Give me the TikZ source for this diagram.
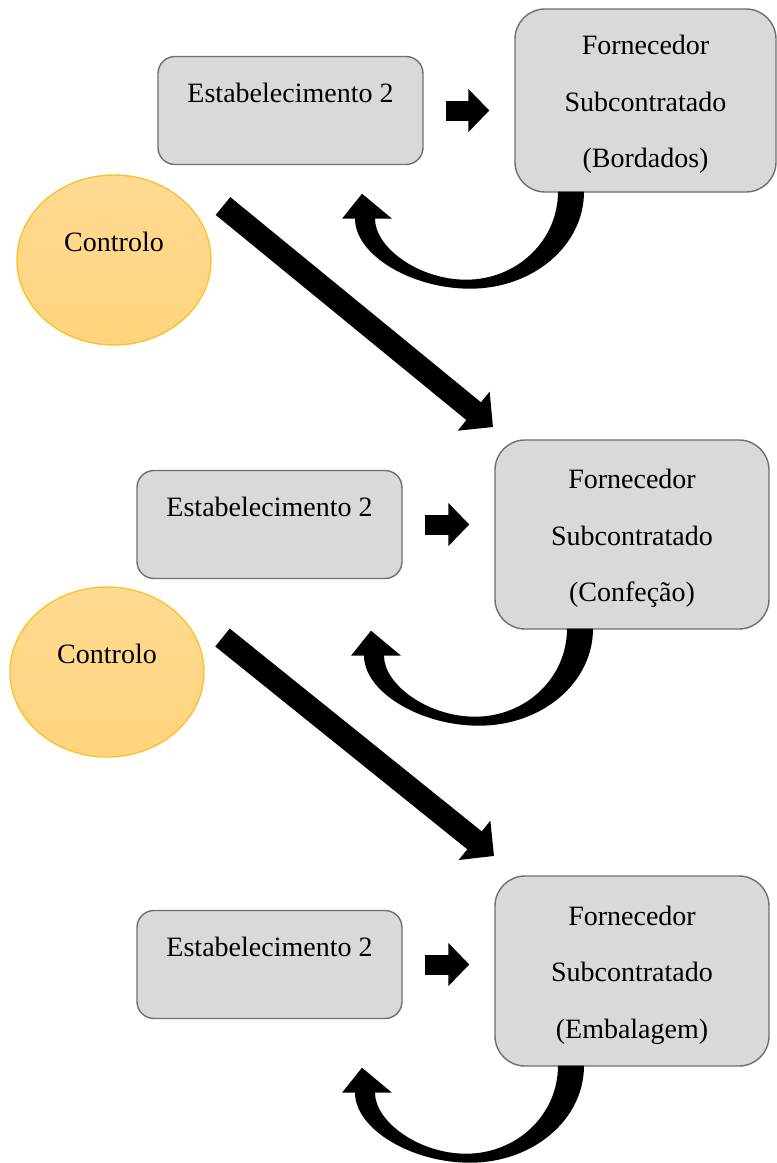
\documentclass[tikz,border=0pt]{standalone}
\usepackage{fontspec}
\setmainfont{Liberation Serif}
\usetikzlibrary{arrows.meta,shapes.geometric}
\definecolor{boxgray}{HTML}{D9D9D9}
\definecolor{boxline}{HTML}{6E6E6E}
\definecolor{ctrltop}{HTML}{FFDA92}
\definecolor{ctrlbot}{HTML}{FFD47C}
\definecolor{ctrlline}{HTML}{F8C232}
\tikzset{
  estbox/.style={draw=boxline, fill=boxgray, rounded corners=17pt, line width=1.4pt,
                 minimum width=265pt, minimum height=108pt, inner sep=0pt,
                 font=\fontsize{28}{34}\selectfont, text height=19pt, text depth=36pt},
  fornbox/.style={draw=boxline, fill=boxgray, rounded corners=30pt, line width=1.4pt,
                  minimum width=274pt, minimum height=189pt, inner sep=0pt, align=center,
                  font=\fontsize{28}{56.5}\selectfont, text height=140pt, text depth=6pt},
  ctrl/.style={ellipse, draw=ctrlline, top color=ctrltop, bottom color=ctrlbot,
               line width=1.4pt, minimum width=194pt, minimum height=170pt, inner sep=0pt,
               font=\fontsize{28}{34}\selectfont, text height=19pt, text depth=36pt},
  flow/.style={line width=20pt, -{Triangle[length=21pt, width=42pt]},
               shorten <=22pt, shorten >=25pt},
  bigflow/.style={line width=23pt, -{Triangle[length=25pt, width=49pt]}},
  pics/retorno/.style={code={
    \fill (13,-1) .. controls (13,53) and (-38,96) .. (-101,96)
          .. controls (-160,96) and (-216,62) .. (-216,26)
          -- (-229,26) -- (-209,1) -- (-179,26) -- (-196,26)
          .. controls (-196,55) and (-152,87) .. (-105,87)
          .. controls (-54,87) and (-13,48) .. (-13,-1) -- cycle;
  }},
}
\begin{document}
\begin{tikzpicture}[x=1pt, y=-1pt]
    \useasboundingbox (0,0) rectangle (777,1163);
    % etapa 1: bordados
    \node[estbox] (estA) at (290.5,110.5) {Estabelecimento 2};
    \node[fornbox, minimum width=261pt, minimum height=183pt] (fornA) at (645.5,100.5)
      {Fornecedor\\Subcontratado\\(Bordados)};
    \node[ctrl] (ctrlA) at (114,260) {Controlo};
    % etapa 2: confecao
    \node[estbox] (estB) at (269.5,524.5) {Estabelecimento 2};
    \node[fornbox] (fornB) at (632,534.5) {Fornecedor\\Subcontratado\\(Confeção)};
    \node[ctrl] (ctrlB) at (107,672) {Controlo};
    % etapa 3: embalagem
    \node[estbox] (estC) at (269.5,964.5) {Estabelecimento 2};
    \node[fornbox, minimum height=190pt] (fornC) at (632,971)
      {Fornecedor\\Subcontratado\\(Embalagem)};
    \foreach \a/\b in {estA/fornA, estB/fornB, estC/fornC}
      \draw[flow] (\a) -- (\a -| \b.west);
    \pic at ([xshift=-74.5pt]fornA.south) {retorno};
    \pic at ([xshift=-52pt]fornB.south) {retorno};
    \pic at ([xshift=-61pt]fornC.south) {retorno};
    \coordinate (outA) at (223,206);
    \coordinate (inA) at (493,427);
    \coordinate (outB) at (222.5,637.5);
    \coordinate (inB) at (494,856);
    \foreach \s/\t in {outA/inA, outB/inB}
      \draw[bigflow] (\s) -- (\t);
  \end{tikzpicture}
\end{document}
